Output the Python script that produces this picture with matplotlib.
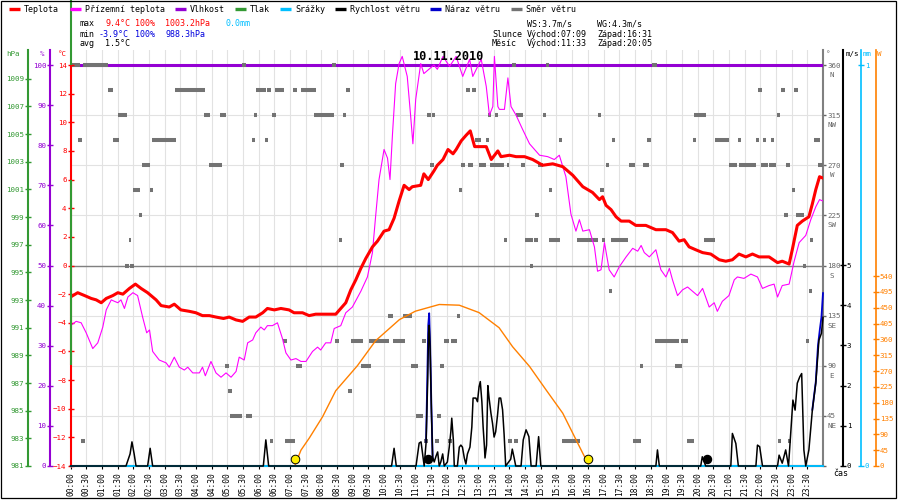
import matplotlib
matplotlib.use("Agg")
import matplotlib.pyplot as plt
from matplotlib.lines import Line2D
from matplotlib.patches import Rectangle
from matplotlib.transforms import blended_transform_factory, offset_copy

plt.rcParams["font.family"] = ["DejaVu Sans Mono", "DejaVu Sans"]

# ============================================================
# Data (time in hours of the day)
# ============================================================

datum = "10.11.2010"
casy = [f"{h:02d}:{m:02d}" for h in range(24) for m in (0, 30)]

teplota_t = [0.00, 0.23, 0.45, 0.66, 0.82, 0.98, 1.14, 1.35, 1.51, 1.67,
             1.88, 2.07, 2.25, 2.46, 2.73, 2.89, 3.15, 3.31, 3.52, 3.79,
             4.00, 4.21, 4.43, 4.64, 4.88, 5.06, 5.28, 5.49, 5.70, 5.91,
             6.13, 6.28, 6.50, 6.71, 6.97, 7.13, 7.40, 7.61, 7.82, 8.14,
             8.46, 8.62, 8.78, 8.94, 9.10, 9.26, 9.42, 9.63, 9.79, 10.00,
             10.16, 10.32, 10.48, 10.64, 10.80, 10.90, 11.17, 11.27, 11.41, 11.59,
             11.70, 11.88, 12.04, 12.20, 12.30, 12.46, 12.62, 12.75, 12.89, 13.26,
             13.42, 13.63, 13.73, 14.00, 14.21, 14.48, 14.74, 15.06, 15.38, 15.70,
             16.02, 16.34, 16.65, 16.87, 16.97, 17.08, 17.24, 17.40, 17.56, 17.82,
             18.03, 18.35, 18.67, 18.99, 19.20, 19.41, 19.57, 19.73, 19.94, 20.16,
             20.42, 20.69, 20.90, 21.11, 21.32, 21.54, 21.75, 21.96, 22.28, 22.55,
             22.70, 22.92, 23.02, 23.18, 23.34, 23.55, 23.66, 23.77, 23.89, 24.00]
teplota = [-2.2, -1.9, -2.1, -2.3, -2.4, -2.6, -2.3, -2.1, -1.9, -2.0,
           -1.6, -1.3, -1.6, -1.9, -2.4, -2.8, -2.9, -2.7, -3.1, -3.2,
           -3.3, -3.5, -3.5, -3.6, -3.7, -3.6, -3.8, -3.9, -3.6, -3.6,
           -3.3, -3.0, -3.1, -3.0, -3.1, -3.3, -3.3, -3.5, -3.4, -3.4,
           -3.4, -3.0, -2.6, -1.7, -1.0, -0.2, 0.5, 1.3, 1.7, 2.4,
           2.5, 3.3, 4.5, 5.6, 5.3, 5.5, 5.6, 6.4, 6.0, 6.6,
           7.0, 7.4, 8.1, 7.8, 8.1, 8.7, 9.1, 9.4, 8.3, 8.3,
           7.4, 8.0, 7.6, 7.7, 7.6, 7.6, 7.4, 7.0, 7.1, 6.9,
           6.3, 5.5, 5.1, 4.6, 4.8, 4.2, 3.9, 3.4, 3.1, 3.1,
           2.8, 2.8, 2.5, 2.5, 2.3, 1.7, 1.8, 1.3, 1.1, 0.9,
           0.8, 0.4, 0.3, 0.4, 0.8, 0.6, 0.8, 0.6, 0.6, 0.2,
           0.3, 0.1, 1.1, 2.8, 3.1, 3.4, 4.3, 5.3, 6.2, 6.1]

prizemni_t = [0.00, 0.18, 0.34, 0.50, 0.71, 0.87, 1.03, 1.14, 1.30, 1.40,
              1.51, 1.61, 1.72, 1.83, 1.99, 2.14, 2.30, 2.43, 2.52, 2.62,
              2.83, 3.05, 3.15, 3.31, 3.47, 3.63, 3.74, 3.90, 4.11, 4.21,
              4.30, 4.48, 4.64, 4.80, 4.96, 5.12, 5.28, 5.38, 5.54, 5.65,
              5.81, 5.91, 6.07, 6.18, 6.28, 6.44, 6.60, 6.76, 6.87, 7.03,
              7.19, 7.35, 7.51, 7.72, 7.88, 7.98, 8.14, 8.30, 8.41, 8.62,
              8.78, 8.99, 9.26, 9.47, 9.63, 9.73, 9.84, 10.00, 10.11, 10.19,
              10.27, 10.37, 10.48, 10.58, 10.74, 10.85, 10.92, 11.01, 11.17, 11.27,
              11.43, 11.59, 11.70, 11.88, 12.09, 12.30, 12.51, 12.73, 12.83, 13.10,
              13.26, 13.36, 13.47, 13.52, 13.63, 13.68, 13.84, 13.95, 14.05, 14.21,
              14.42, 14.64, 14.96, 15.22, 15.43, 15.59, 15.80, 15.96, 16.12, 16.23,
              16.34, 16.55, 16.71, 16.81, 16.92, 17.03, 17.18, 17.34, 17.50, 17.72,
              17.93, 18.09, 18.20, 18.30, 18.46, 18.67, 18.83, 18.99, 19.10, 19.20,
              19.36, 19.52, 19.68, 19.84, 20.00, 20.16, 20.37, 20.53, 20.63, 20.79,
              21.00, 21.17, 21.27, 21.48, 21.70, 21.91, 22.07, 22.28, 22.44, 22.55,
              22.70, 22.92, 23.08, 23.24, 23.45, 23.61, 23.77, 23.89, 24.00]
prizemni = [-4.2, -3.9, -4.0, -4.7, -5.8, -5.4, -4.3, -3.1, -2.4, -2.5,
            -2.6, -2.4, -3.0, -2.2, -1.9, -2.1, -3.6, -4.7, -4.5, -6.0,
            -6.6, -6.8, -7.1, -6.4, -7.1, -7.3, -7.1, -7.5, -7.5, -7.1,
            -7.7, -6.7, -7.5, -7.8, -7.5, -7.8, -7.4, -6.4, -6.6, -5.4,
            -5.2, -4.7, -4.3, -4.5, -4.2, -4.2, -4.0, -5.1, -6.1, -6.6,
            -6.5, -6.7, -6.7, -6.0, -5.7, -5.9, -5.4, -5.4, -4.4, -4.2,
            -3.3, -2.9, -1.8, -0.8, 0.9, 3.4, 6.0, 8.1, 7.5, 6.0,
            9.2, 12.7, 14.1, 14.6, 13.2, 10.4, 8.5, 11.6, 14.1, 13.4,
            13.7, 14.0, 13.7, 14.6, 13.9, 14.6, 13.2, 14.4, 13.2, 14.4,
            12.5, 10.5, 11.1, 14.6, 11.1, 10.9, 10.9, 13.1, 11.1, 10.5,
            9.5, 8.5, 7.7, 7.6, 7.4, 7.7, 6.2, 3.6, 2.4, 3.2,
            2.4, 2.5, 1.3, -0.4, -0.3, 1.6, -0.3, -0.8, -0.1, 0.6,
            1.2, 1.0, 1.4, 0.9, 0.6, 1.1, -0.3, -0.8, -0.2, -1.0,
            -2.1, -1.7, -1.5, -1.8, -2.1, -1.6, -2.9, -2.6, -3.2, -2.5,
            -2.1, -1.0, -0.8, -0.9, -0.6, -0.8, -1.6, -1.4, -1.3, -2.2,
            -1.4, -1.3, 0.3, 1.6, 2.1, 3.2, 4.1, 4.6, 4.5]

vlhkost_t = [0.0, 24.0]
vlhkost = [100, 100]

# pressure is only drawn as a vertical stroke at midnight in the source chart
tlak_t = 0.0
tlak_useky = [(988.3, 1001.7), (1010.0, 1014.7)]

srazky_t = [0.0, 24.0]
srazky = [0.0, 0.0]

vitr_t = [0.00, 1.77, 1.90, 1.96, 2.03, 2.09, 2.46, 2.54, 2.62, 6.15, 6.23, 6.32,
          10.24, 10.32, 10.39, 11.02, 11.12, 11.18, 11.23, 11.28, 11.34, 11.39,
          11.42, 11.44, 11.47, 11.51, 11.55, 11.60, 11.66, 11.71, 11.76, 11.81,
          11.87, 11.92, 12.02, 12.08, 12.13, 12.16, 12.21, 12.24, 12.34, 12.40,
          12.45, 12.50, 12.56, 12.61, 12.66, 12.74, 12.80, 12.84, 12.93, 12.98,
          13.03, 13.07, 13.12, 13.16, 13.20, 13.22, 13.27, 13.31, 13.35, 13.41,
          13.46, 13.51, 13.56, 13.62, 13.67, 13.72, 13.78, 13.83, 13.88, 14.04,
          14.09, 14.15, 14.20, 14.37, 14.44, 14.53, 14.62, 14.69, 14.85, 14.93,
          15.00, 18.67, 18.72, 18.78, 20.10, 20.15, 20.26, 21.06, 21.11, 21.22,
          21.30, 21.86, 21.91, 21.98, 22.07, 22.55, 22.60, 22.70, 22.81, 22.90,
          22.97, 23.04, 23.11, 23.18, 23.26, 23.32, 23.39, 23.45, 23.55, 23.66,
          23.77, 23.87, 23.95, 24.00]
vitr = [0, 0, 0.3, 0.6, 0.3, 0, 0, 0.44, 0, 0, 0.65, 0,
        0, 0.44, 0, 0, 0.57, 0.6, 0.3, 0, 0.57, 2.06,
        3.3, 3.5, 2.9, 1.39, 0.22, 0.1, 0.25, 0.35, 0, 0.1,
        0.3, 0, 0.1, 0.47, 0.85, 1.19, 0.65, 0, 0, 0.47,
        0.52, 0.47, 0.2, 0.05, 0.3, 0.47, 0.97, 1.69, 1.69, 1.6,
        1.97, 2.1, 1.6, 0.97, 0.5, 0.2, 0.52, 2.0, 1.69, 1.31,
        1.06, 0.72, 0.85, 1.27, 1.69, 1.69, 1.4, 0.78, 0, 0.17,
        0.42, 0.2, 0, 0, 0.65, 0.9, 0.73, 0, 0, 0.73,
        0, 0, 0.4, 0, 0, 0.23, 0, 0, 0.81, 0.56,
        0, 0, 0.52, 0.48, 0, 0, 0.27, 0.07, 0.4, 0,
        0.81, 1.64, 1.39, 2.06, 2.22, 2.3, 0.4, 0, 0.4, 1.39,
        2.06, 3.13, 3.3, 3.7]

naraz_t = [11.34, 11.38, 11.41, 11.44, 11.47, 11.51, 11.55, float("nan"),
           23.66, 23.77, 23.84, 23.90, 23.95, 24.00]
naraz = [0.6, 2.2, 3.5, 3.8, 3.0, 1.5, 0.2, float("nan"),
         1.4, 2.1, 3.0, 3.4, 3.7, 4.3]

zareni_t = [7.15, 7.35, 7.62, 8.04, 8.46, 9.15, 9.73, 10.49, 11.00, 11.76,
            12.40, 13.03, 13.67, 14.10, 14.64, 15.17, 15.70, 16.02, 16.34, 16.52]
zareni = [0, 45, 80, 140, 214, 285, 356, 416, 440, 459,
          457, 436, 393, 339, 283, 216, 150, 93, 36, 5]

slunce_t = [7.15, 16.52]
mesic_t = [11.40, 20.29]

# wind direction: (degrees, from hour, to hour)
smer_useky = [
    (360, 0.02, 0.29), (360, 0.41, 1.19), (360, 5.47, 5.60), (360, 8.35, 8.46),
    (360, 14.09, 14.20), (360, 15.16, 15.26), (360, 18.55, 18.72),
    (337.5, 1.19, 1.37), (337.5, 3.34, 4.29), (337.5, 5.93, 6.23), (337.5, 6.28, 6.39),
    (337.5, 6.53, 6.82), (337.5, 7.11, 7.22), (337.5, 7.36, 7.83), (337.5, 8.80, 8.91),
    (337.5, 12.62, 12.74), (337.5, 12.81, 12.93), (337.5, 21.93, 22.04),
    (337.5, 22.67, 22.78), (337.5, 23.09, 23.20),
    (315, 1.51, 1.80), (315, 4.27, 4.45), (315, 4.78, 4.96), (315, 5.86, 5.94),
    (315, 6.44, 6.55), (315, 7.77, 8.41), (315, 8.69, 8.80), (315, 11.38, 11.49),
    (315, 11.52, 11.63), (315, 13.31, 13.41), (315, 13.55, 13.65), (315, 14.22, 14.44),
    (315, 15.06, 15.16), (315, 16.81, 16.91), (315, 19.90, 20.26), (315, 22.52, 22.62),
    (292.5, 0.25, 0.37), (292.5, 1.35, 1.56), (292.5, 2.59, 3.37), (292.5, 5.79, 5.89),
    (292.5, 6.19, 6.30), (292.5, 12.89, 13.10), (292.5, 13.24, 13.36), (292.5, 15.58, 15.68),
    (292.5, 17.27, 17.37), (292.5, 18.40, 18.50), (292.5, 19.85, 19.95), (292.5, 20.55, 21.00),
    (292.5, 21.28, 21.38), (292.5, 21.85, 21.95), (292.5, 22.09, 22.19), (292.5, 22.35, 22.45),
    (292.5, 23.70, 23.90),
    (270, 2.27, 2.55), (270, 4.43, 4.82), (270, 8.60, 8.73), (270, 11.45, 11.59),
    (270, 12.46, 12.57), (270, 12.67, 12.83), (270, 13.04, 13.26), (270, 13.39, 13.84),
    (270, 13.92, 14.00), (270, 14.37, 14.50), (270, 14.90, 15.06), (270, 17.08, 17.18),
    (270, 17.82, 18.00), (270, 18.25, 18.46), (270, 21.00, 21.27), (270, 21.32, 21.86),
    (270, 22.01, 22.23), (270, 22.28, 22.51), (270, 22.83, 22.94), (270, 23.85, 24.00),
    (247.5, 2.00, 2.23), (247.5, 2.52, 2.64), (247.5, 12.39, 12.49), (247.5, 15.25, 15.35),
    (247.5, 16.90, 17.00), (247.5, 23.02, 23.12),
    (225, 2.17, 2.28), (225, 14.83, 14.93), (225, 22.77, 22.87), (225, 23.15, 23.40),
    (202.5, 1.85, 1.93), (202.5, 8.55, 8.65), (202.5, 13.82, 13.93), (202.5, 14.50, 14.74),
    (202.5, 14.78, 14.90), (202.5, 15.27, 15.60), (202.5, 16.17, 16.82), (202.5, 16.95, 17.05),
    (202.5, 17.25, 17.79), (202.5, 20.19, 20.55), (202.5, 23.59, 23.69),
    (180, 1.75, 1.86), (180, 1.91, 2.01), (180, 14.64, 14.74), (180, 23.35, 23.45),
    (157.5, 17.17, 17.27), (157.5, 23.55, 23.65),
    (135, 10.13, 10.30), (135, 10.62, 10.90), (135, 12.32, 12.42),
    (112.5, 6.78, 6.90), (112.5, 8.44, 8.57), (112.5, 8.96, 9.33), (112.5, 9.52, 10.16),
    (112.5, 10.30, 10.67), (112.5, 11.22, 11.34), (112.5, 11.90, 12.08), (112.5, 12.15, 12.32),
    (112.5, 18.65, 19.42), (112.5, 19.47, 19.69), (112.5, 23.45, 23.55),
    (90, 4.94, 5.07), (90, 7.20, 7.37), (90, 9.25, 9.57), (90, 10.87, 11.08),
    (90, 11.79, 11.92), (90, 18.15, 18.25), (90, 19.27, 19.50),
    (67.5, 5.03, 5.15), (67.5, 8.84, 8.97),
    (45, 5.08, 5.47), (45, 5.60, 5.80), (45, 11.03, 11.25), (45, 11.70, 11.82),
    (22.5, 0.34, 0.45), (22.5, 6.36, 6.46), (22.5, 6.85, 7.17), (22.5, 11.28, 11.41),
    (22.5, 11.63, 11.76), (22.5, 12.05, 12.17), (22.5, 13.96, 14.09), (22.5, 14.15, 14.28),
    (22.5, 15.68, 16.26), (22.5, 17.95, 18.20), (22.5, 19.65, 19.87), (22.5, 22.55, 22.66),
    (22.5, 22.88, 22.98),
    (0, 0.00, 0.06),
]

# axis ticks
smer_ticky = [0, 45, 90, 135, 180, 225, 270, 315, 360]
smer_zkratky = ["", "NE", "E", "SE", "S", "SW", "W", "NW", "N"]
teplota_ticky = list(range(-14, 15, 2))
vlhkost_ticky = list(range(0, 101, 10))
tlak_ticky = list(range(981, 1010, 2))
vitr_ticky = [0, 1, 2, 3, 4, 5]
srazky_ticky = [0, 1]
zareni_ticky = list(range(0, 541, 45))

# header texts
legenda = ["Teplota", "Přízemní teplota", "Vlhkost", "Tlak", "Srážky",
           "Rychlost větru", "Náraz větru", "Směr větru"]
stat_max = ["9.4°C", "100%", "1003.2hPa", "0.0mm"]
stat_min = ["-3.9°C", "100%", "988.3hPa"]
stat_avg = "1.5°C"
vitr_info = ["WS:3.7m/s", "WG:4.3m/s"]
slunce_info = ["Východ:07:09", "Západ:16:31"]
mesic_info = ["Východ:11:33", "Západ:20:05"]

# ============================================================
# Colours
# ============================================================

C_TEPLOTA = "#ff0000"
C_PRIZEMNI = "#ff00ff"
C_VLHKOST = "#9400d3"
C_TLAK = "#339933"
C_SRAZKY = "#00bfff"
C_VITR = "#000000"
C_NARAZ = "#0000cc"
C_SMER = "#737373"
C_ZARENI = "#ff8000"
C_GRID = "#e2e2e2"
C_MIN = "#0000dd"

FS = 5.4        # tick labels
FS_TXT = 6.0    # header texts

# ============================================================
# Layout helpers (pixel coordinates of the 900x500 image)
# ============================================================

def fx(x):
    return x / 900.0


def fy(y):
    return 1.0 - y / 500.0


PL, PR, PT, PB = 70.5, 823.0, 50.0, 466.0

fig = plt.figure(figsize=(9, 5), dpi=100, facecolor="white")
ax_dir = fig.add_axes([fx(PL), fy(PB), fx(PR) - fx(PL), fy(PT) - fy(PB)])
ax_dir.set_xlim(0, 24)
ax_dir.set_ylim(0, 360 * (PB - PT) / 401)


def twin(bottom_value, span_value):
    # span_value is what the 401 px between the -14 and 14 degC lines hold
    a = ax_dir.twinx()
    a.set_ylim(bottom_value, bottom_value + span_value * (PB - PT) / 401)
    for s in a.spines.values():
        s.set_visible(False)
    a.set_yticks([])
    return a


def osa(a, side, x_px, color, ticks, lw=1.5):
    sp = a.spines[side]
    sp.set_visible(True)
    sp.set_color(color)
    sp.set_linewidth(lw)
    sp.set_position(("axes", (x_px - PL) / (PR - PL)))
    if side == "left":
        a.yaxis.tick_left()
    else:
        a.yaxis.tick_right()
    a.set_yticks(ticks)
    a.tick_params(axis="y", colors=color, direction="inout", length=4,
                  width=1, labelsize=FS, pad=0.8)


ax_h = twin(0, 100)                    # humidity
ax_sm = twin(0, 360)                   # wind direction marks
ax_w = twin(0, 540 * 401 / 190)        # solar radiation
ax_t = twin(-14, 28)                   # temperatures
ax_p = twin(981, 29)                   # pressure
ax_mm = twin(0, 1)                     # precipitation
ax_ws = twin(0, 5 * 401 / 201)         # wind speed

# ============================================================
# Grid, direction axis
# ============================================================

ax_dir.set_facecolor("white")
for s in ("left", "top"):
    ax_dir.spines[s].set_visible(False)
ax_dir.spines["bottom"].set_color("black")
ax_dir.spines["bottom"].set_linewidth(1.5)
ax_dir.spines["right"].set_color("#808080")
ax_dir.spines["right"].set_linewidth(1.5)

ax_dir.set_xticks([i * 0.5 for i in range(len(casy))])
ax_dir.set_xticklabels(casy, rotation=90, fontsize=FS + 0.3)
ax_dir.tick_params(axis="x", direction="out", length=2.5, width=0.8,
                   color="black", pad=2)
ax_dir.yaxis.tick_right()
ax_dir.set_yticks(smer_ticky)
ax_dir.set_yticklabels([""] + [str(v) for v in smer_ticky[1:]])
ax_dir.tick_params(axis="y", colors="#666666", direction="out", length=2.5,
                   width=1, labelsize=FS, pad=0.5)
ax_dir.grid(True, color=C_GRID, linewidth=0.8)
ax_dir.set_axisbelow(True)
ax_dir.axhline(180, color="#808080", linewidth=1.0)

tr_zkr = offset_copy(blended_transform_factory(ax_dir.transAxes, ax_dir.transData),
                     fig=fig, x=9, y=-10, units="dots")
for v, z in zip(smer_ticky, smer_zkratky):
    ax_dir.text(1.0, v, z, transform=tr_zkr, ha="center", va="center",
                fontsize=FS, color="#666666")

# ============================================================
# Series
# ============================================================

osa(ax_h, "left", 50, C_VLHKOST, vlhkost_ticky)
ax_h.plot(vlhkost_t, vlhkost, color=C_VLHKOST, linewidth=2.2, solid_capstyle="butt")

ax_sm.set_ylim(ax_dir.get_ylim())
ax_sm.hlines([d for d, a, b in smer_useky], [a for d, a, b in smer_useky],
             [b for d, a, b in smer_useky], colors=C_SMER, linewidth=2.9,
             capstyle="butt", clip_on=False)

osa(ax_w, "right", 876, C_ZARENI, zareni_ticky, lw=1.2)
ax_w.plot(zareni_t, zareni, color=C_ZARENI, linewidth=1.0)

osa(ax_t, "left", PL, C_TEPLOTA, teplota_ticky)
ax_t.spines["left"].set_bounds(-14, 14)
ax_t.plot(prizemni_t, prizemni, color=C_PRIZEMNI, linewidth=0.8)
ax_t.plot(teplota_t, teplota, color=C_TEPLOTA, linewidth=2.2)

osa(ax_p, "left", 28, C_TLAK, tlak_ticky)
for lo, hi in tlak_useky:
    ax_p.plot([tlak_t, tlak_t], [lo, hi], color=C_TLAK, linewidth=1.5,
              solid_capstyle="butt", clip_on=False)

osa(ax_mm, "right", 861, C_SRAZKY, srazky_ticky, lw=1.2)
ax_mm.plot(srazky_t, srazky, color=C_SRAZKY, linewidth=1.4, clip_on=False)

osa(ax_ws, "right", 843, C_VITR, vitr_ticky)
ax_ws.plot(naraz_t, naraz, color=C_NARAZ, linewidth=1.3, clip_on=False)
ax_ws.plot(vitr_t, vitr, color=C_VITR, linewidth=1.1, clip_on=False)
ax_ws.plot(slunce_t, [0.017] * len(slunce_t), transform=ax_ws.get_xaxis_transform(),
           linestyle="none", marker="o", markersize=6.2, markerfacecolor="#ffee00",
           markeredgecolor="black", markeredgewidth=0.7, clip_on=False)
ax_ws.plot(mesic_t, [0.017] * len(mesic_t), transform=ax_ws.get_xaxis_transform(),
           linestyle="none", marker="o", markersize=5.8, markerfacecolor="black",
           markeredgecolor="black", clip_on=False)

# ============================================================
# Header: legend, stats, axis names, title
# ============================================================

leg_barvy = [C_TEPLOTA, C_PRIZEMNI, C_VLHKOST, C_TLAK, C_SRAZKY, C_VITR, C_NARAZ, C_SMER]
leg_x = [9, 70, 175, 235, 280, 335, 430, 511]
for x0, barva, txt in zip(leg_x, leg_barvy, legenda):
    fig.add_artist(Line2D([fx(x0), fx(x0 + 11)], [fy(9), fy(9)], color=barva,
                          linewidth=2.4, solid_capstyle="butt"))
    fig.text(fx(x0 + 15), fy(9.5), txt, fontsize=FS_TXT, ha="left", va="center")

fig.text(fx(80), fy(24), "max", fontsize=FS_TXT, va="center")
for x0, txt, barva in zip([105, 135, 165, 226], stat_max,
                          [C_TEPLOTA, C_TEPLOTA, C_TEPLOTA, C_SRAZKY]):
    fig.text(fx(x0), fy(24), txt, fontsize=FS_TXT, va="center", color=barva)
fig.text(fx(80), fy(34), "min", fontsize=FS_TXT, va="center")
for x0, txt in zip([99, 135, 165], stat_min):
    fig.text(fx(x0), fy(34), txt, fontsize=FS_TXT, va="center", color=C_MIN)
fig.text(fx(80), fy(44), "avg", fontsize=FS_TXT, va="center")
fig.text(fx(105), fy(44), stat_avg, fontsize=FS_TXT, va="center")

for x0, txt in zip([527, 597], vitr_info):
    fig.text(fx(x0), fy(24), txt, fontsize=FS_TXT, va="center")
fig.text(fx(492), fy(34), "Slunce", fontsize=FS_TXT, va="center")
fig.text(fx(492), fy(44), "Měsíc", fontsize=FS_TXT, va="center")
for x0, a, b in zip([527, 597], slunce_info, mesic_info):
    fig.text(fx(x0), fy(34), a, fontsize=FS_TXT, va="center")
    fig.text(fx(x0), fy(44), b, fontsize=FS_TXT, va="center")

for x0, txt, barva in [(6, "hPa", C_TLAK), (40, "%", C_VLHKOST), (58, "°C", C_TEPLOTA),
                       (826, "°", "#666666"), (846, "m/s", C_VITR),
                       (863, "mm", C_SRAZKY), (877, "W", C_ZARENI)]:
    fig.text(fx(x0), fy(54), txt, fontsize=FS, va="center", color=barva)

fig.text(fx(833), fy(474), "čas", fontsize=FS_TXT, va="center")
fig.text(fx(449), fy(57), datum, fontsize=8.6, fontweight="bold",
         ha="center", va="center")

fig.add_artist(Rectangle((fx(0.5), fy(498)), fx(895.5), fy(0.5) - fy(498),
                         transform=fig.transFigure, fill=False,
                         edgecolor="black", linewidth=0.9))

fig.savefig("out.png", dpi=100, facecolor="white")
